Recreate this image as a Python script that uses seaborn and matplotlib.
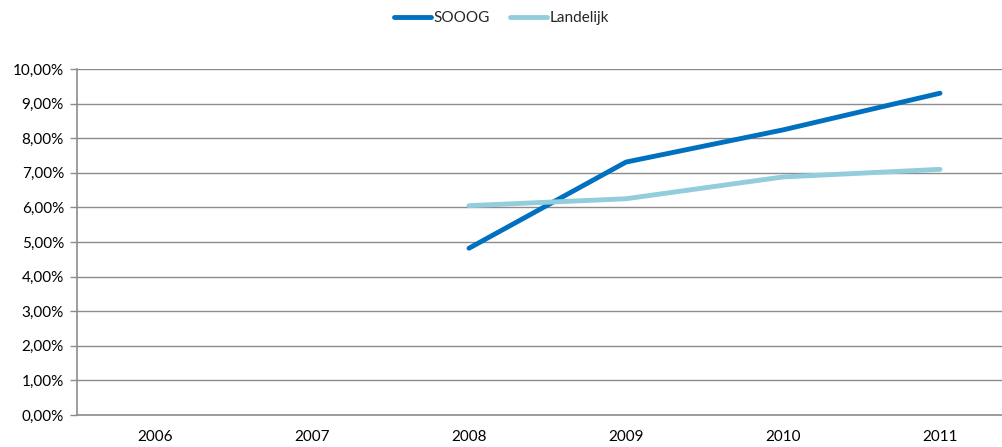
import numpy as np
import pandas as pd
import matplotlib
matplotlib.use("Agg")
import matplotlib.pyplot as plt
import seaborn as sns
from matplotlib.ticker import FixedLocator, FuncFormatter

years = ["2006", "2007", "2008", "2009", "2010", "2011"]
sooog = [np.nan, np.nan, 4.82, 7.31, 8.24, 9.30]
landelijk = [np.nan, np.nan, 6.05, 6.25, 6.88, 7.10]
series_names = ["SOOOG", "Landelijk"]
colors = ["#0070C0", "#92CDDC"]

sns.set_theme(style="white")
plt.rcParams["font.family"] = ["Lato", "DejaVu Sans"]

df = pd.DataFrame({
    "pos": list(range(len(years))) * 2,
    "value": sooog + landelijk,
    "serie": [series_names[0]] * len(years) + [series_names[1]] * len(years),
})

fig = plt.figure(figsize=(10.03, 4.47), dpi=100)
ax = fig.add_axes([76.5 / 1003, 32 / 447, 942 / 1003, 346 / 447])

sns.lineplot(data=df, x="pos", y="value", hue="serie", palette=colors,
             hue_order=series_names, linewidth=3.5, ax=ax, legend=False,
             solid_capstyle="round", solid_joinstyle="round")

ax.set_xlim(-0.5, len(years) - 0.5)
ax.set_ylim(0, 10)
ax.set_xlabel("")
ax.set_ylabel("")

ax.yaxis.set_major_locator(FixedLocator(np.arange(0, 10.01, 1)))
ax.yaxis.set_major_formatter(FuncFormatter(lambda v, _: f"{v:.2f}%".replace(".", ",")))
ax.grid(axis="y", color="#8c8c8c", linewidth=1.0)
ax.set_axisbelow(True)

ax.set_xticks(range(len(years)))
ax.set_xticklabels(years)
ax.set_xticks(np.arange(-0.5, len(years), 1), minor=True)
ax.tick_params(axis="x", which="major", length=0, pad=11, labelsize=11, colors="#000000")
ax.tick_params(axis="x", which="minor", length=5, width=1, color="#8c8c8c", direction="out")
ax.tick_params(axis="y", which="major", length=5, width=1, color="#8c8c8c",
               direction="out", labelsize=11, labelcolor="#000000", pad=4)
ax.tick_params(left=True, bottom=True)

for side in ["top", "right"]:
    ax.spines[side].set_visible(False)
for side in ["left", "bottom"]:
    ax.spines[side].set_color("#8c8c8c")
    ax.spines[side].set_linewidth(1.2)

handles = [plt.Line2D([0], [0], color=c, linewidth=3.5, solid_capstyle="round") for c in colors]
fig.legend(handles, series_names, loc="center", bbox_to_anchor=(0.5, 1 - 18 / 447),
           ncol=2, frameon=False, fontsize=11, handlelength=2.4, handletextpad=0.2,
           columnspacing=1.3)

fig.savefig("out.png", dpi=100)
